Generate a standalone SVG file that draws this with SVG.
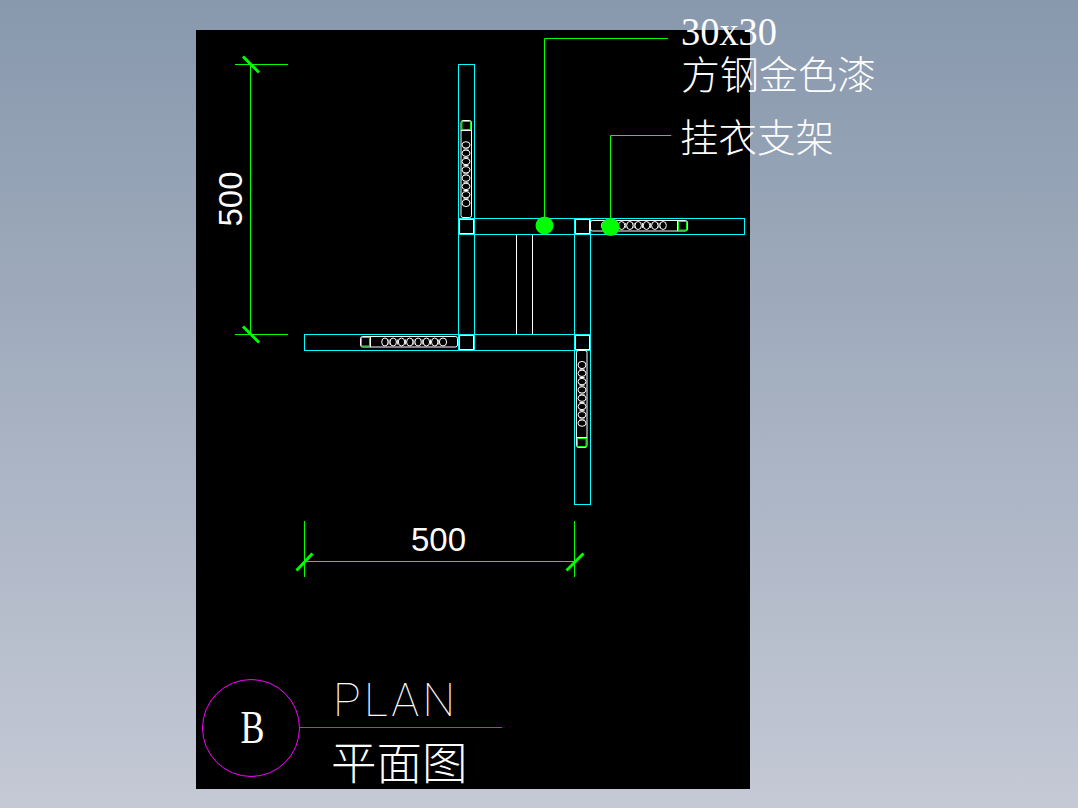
<svg xmlns="http://www.w3.org/2000/svg" xmlns:xlink="http://www.w3.org/1999/xlink" width="1078" height="808" viewBox="0 0 1078 808">
<defs>
<linearGradient id="bg" x1="0" y1="0" x2="0" y2="1"><stop offset="0" stop-color="#8898ad"/><stop offset="1" stop-color="#c4c9d5"/></linearGradient>
<g id="hanger">
<rect class="w" x="0.5" y="-5" width="97" height="10.5" rx="2"/>
<rect class="g" x="88.500" y="-4" width="8" height="8.500"/>
<line class="w" x1="87.500" y1="-5" x2="87.500" y2="5.500"/>
<g class="w">
<ellipse cx="15" cy="0" rx="3.600" ry="4"/><ellipse cx="23.300" cy="0" rx="3.200" ry="4"/><ellipse cx="31.600" cy="0" rx="3.200" ry="4"/><ellipse cx="39.900" cy="0" rx="3.200" ry="4"/><ellipse cx="48.200" cy="0" rx="3.200" ry="4"/><ellipse cx="56.500" cy="0" rx="3.200" ry="4"/><ellipse cx="64.800" cy="0" rx="3.200" ry="4"/><ellipse cx="73.100" cy="0" rx="3.200" ry="4"/>
<path d="M19.200-2.500V2.500M27.500-2.500V2.500M35.800-2.500V2.500M44.100-2.500V2.500M52.400-2.500V2.500M60.700-2.500V2.500M69-2.500V2.500"/>
</g>
</g>
</defs>
<style>
.w{fill:none;stroke:#fff;stroke-width:1}
.g{fill:none;stroke:#0f0;stroke-width:1}
.c{fill:none;stroke:#0ff;stroke-width:1}
.d{stroke:#0f0;stroke-width:1;fill:none}
.t{stroke:#0f0;stroke-width:3;fill:none}
.dot{fill:#0f0}
.m{stroke:#f0f;stroke-width:1;fill:none}
text{fill:#fff;opacity:.99}
.cn{font-family:"Noto Sans CJK SC","Noto Sans CJK TC",sans-serif;font-weight:300}
.num{font-family:"Liberation Sans",Arial,sans-serif;font-size:33px}
.se{font-family:"Liberation Serif",serif}
</style>
<rect width="1078" height="808" fill="url(#bg)"/>
<rect x="196" y="30" width="554" height="759" fill="#000"/>

<g id="frame">
<rect class="c" x="458.500" y="64.500" width="16" height="286"/>
<rect class="c" x="458.500" y="218.500" width="286" height="16"/>
<rect class="c" x="574.500" y="218.500" width="16" height="286"/>
<rect class="c" x="304.500" y="334.500" width="286" height="16"/>
<rect class="w" x="459.500" y="219.500" width="14" height="14"/>
<rect class="w" x="575.500" y="219.500" width="14" height="14"/>
<rect class="w" x="459.500" y="335.500" width="14" height="14"/>
<rect class="w" x="575.500" y="335.500" width="14" height="14"/>
<line class="w" x1="516.500" y1="235" x2="516.500" y2="334"/>
<line class="w" x1="532.500" y1="235" x2="532.500" y2="334"/>
</g>
<g id="hanger-top"><use xlink:href="#hanger" href="#hanger" transform="translate(466 218) rotate(-90)"/></g>
<g id="hanger-right"><use xlink:href="#hanger" href="#hanger" transform="translate(590 225.500)"/></g>
<g id="hanger-left"><use xlink:href="#hanger" href="#hanger" transform="translate(458 342) rotate(180)"/></g>
<g id="hanger-bottom"><use xlink:href="#hanger" href="#hanger" transform="translate(582 350) rotate(90)"/></g>

<g id="connectors">
<path class="d" d="M668 38.500H544.500V225"/>
<path class="d" d="M671 135.500H610.500V227"/>
<circle class="dot" cx="544.500" cy="225.500" r="9"/>
<circle class="dot" cx="610.500" cy="227" r="9"/>
</g>

<g id="dim-vertical">
<path class="d" d="M235 64.500H288M235 334.500H288M250.500 64V335"/>
<path class="t" d="M243 56.500L259 72.500M243 326.500L259 342.500"/>
<text class="num" transform="translate(241.500 226.500) rotate(-90)">500</text>
</g>
<g id="dim-horizontal">
<path class="d" d="M304.500 521V577M574.500 521V577M304 561.500H575"/>
<path class="t" d="M296.500 570.500L312.500 553.500M566.500 570.500L583.500 553.500"/>
<text class="num" x="411" y="551">500</text>
</g>

<g id="label-steel">
<text class="se" x="681" y="44.500" font-size="40" textLength="96" lengthAdjust="spacingAndGlyphs">30x30</text>
<text class="cn" x="681" y="89" font-size="39">方钢金色漆</text>
</g>
<g id="label-hanger">
<text class="cn" x="680" y="152" font-size="38.500">挂衣支架</text>
</g>

<g id="title">
<circle class="m" cx="251" cy="728" r="48.500"/>
<line class="m" x1="299" y1="727.500" x2="502" y2="727.500"/>
<text class="se" x="240.500" y="743" font-size="46" textLength="24" lengthAdjust="spacingAndGlyphs">B</text>
<text x="333" y="716" font-family="Roboto,'Liberation Sans',sans-serif" font-weight="100" font-size="46" textLength="122">PLAN</text>
<text class="cn" x="331" y="780" font-size="45.500">平面图</text>
</g>
</svg>
